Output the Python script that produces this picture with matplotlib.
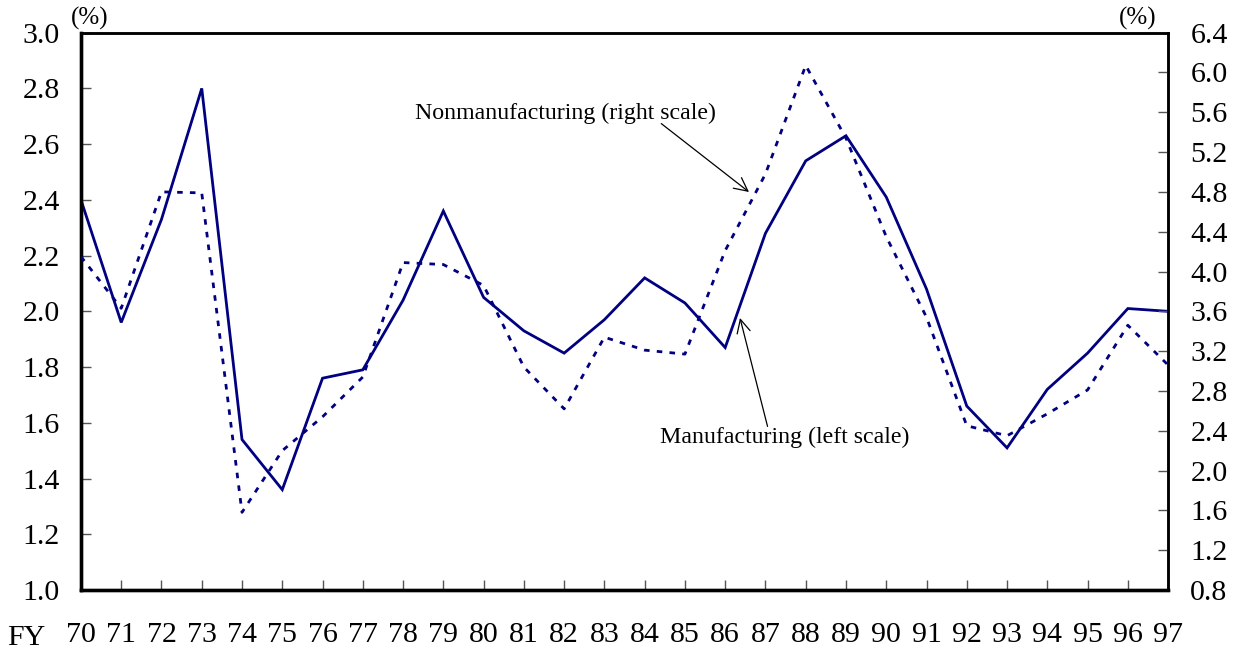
import matplotlib
matplotlib.use("Agg")
import matplotlib.pyplot as plt

years = list(range(70, 98))
year_labels = [str(y) for y in years]
manufacturing = [2.40, 1.96, 2.33, 2.80, 1.54, 1.36, 1.76, 1.79, 2.04, 2.36,
                 2.05, 1.93, 1.85, 1.97, 2.12, 2.03, 1.87, 2.28, 2.54, 2.63,
                 2.41, 2.08, 1.66, 1.51, 1.72, 1.85, 2.01, 2.00]
nonmanufacturing = [4.15, 3.63, 4.80, 4.79, 1.58, 2.20, 2.54, 2.94, 4.09, 4.07,
                    3.86, 3.04, 2.62, 3.34, 3.21, 3.17, 4.21, 4.98, 6.07, 5.34,
                    4.35, 3.54, 2.45, 2.35, 2.57, 2.81, 3.46, 3.06]
left_ticks = [1.0, 1.2, 1.4, 1.6, 1.8, 2.0, 2.2, 2.4, 2.6, 2.8, 3.0]
right_ticks = [0.8, 1.2, 1.6, 2.0, 2.4, 2.8, 3.2, 3.6, 4.0, 4.4, 4.8, 5.2, 5.6, 6.0, 6.4]

plt.rcParams['font.family'] = ['Liberation Serif', 'DejaVu Serif']
NAVY = '#000080'

fig = plt.figure(figsize=(12.34, 6.53), dpi=100)
ax = fig.add_axes([0.0656, 0.0965, 0.881, 0.8535])
ax2 = ax.twinx()

ax.plot(years, manufacturing, color=NAVY, lw=2.0, solid_joinstyle='miter', zorder=3)
ax2.plot(years, nonmanufacturing, color=NAVY, lw=2.0, linestyle=(0, (2, 2.6)), zorder=3)

ax.set_xlim(70, 97)
ax.set_ylim(1.0, 3.0)
ax2.set_ylim(0.8, 6.4)
ax.set_xticks(years)
ax.set_xticklabels(year_labels)
ax.set_yticks(left_ticks)
ax.set_yticklabels([f"{v:.1f}" for v in left_ticks])
ax2.set_yticks(right_ticks)
ax2.set_yticklabels([f"{v:.1f}" for v in right_ticks])

ax.tick_params(axis='x', direction='in', length=7, width=1, color='#555555',
               labelsize=21.5, pad=23)
ax.tick_params(axis='y', direction='in', length=7, width=1, color='#555555',
               labelsize=21.5, pad=15)
ax2.tick_params(axis='y', direction='in', length=7, width=1, color='#555555',
                labelsize=21.5, pad=16)

for a in (ax, ax2):
    for side in ('left', 'bottom'):
        a.spines[side].set_linewidth(2.4)
    for side in ('top', 'right'):
        a.spines[side].set_linewidth(1.8)

fig.text(90 / 1234, 1 - 18 / 653, "(%)", fontsize=18, ha='center', va='center')
fig.text(1138 / 1234, 1 - 18 / 653, "(%)", fontsize=18, ha='center', va='center')
fig.text(26 / 1234, 1 - 638 / 653, "FY", fontsize=21.5, ha='center', va='center')

ax.annotate("Nonmanufacturing (right scale)", xy=(749, 653 - 192), xycoords='figure pixels',
            xytext=(565, 653 - 113), textcoords='figure pixels',
            fontsize=17.2, ha='center', va='center',
            arrowprops=dict(arrowstyle='->', color='black', lw=0.9,
                            shrinkA=0, shrinkB=0, mutation_scale=24,
                            patchA=None, relpos=(0.82, 0.0)))
ax.annotate("Manufacturing (left scale)", xy=(740, 653 - 318), xycoords='figure pixels',
            xytext=(785, 653 - 437), textcoords='figure pixels',
            fontsize=17.2, ha='center', va='center',
            arrowprops=dict(arrowstyle='->', color='black', lw=0.9,
                            shrinkA=0, shrinkB=0, mutation_scale=24,
                            patchA=None, relpos=(0.43, 1.0)))

fig.savefig("out.png", dpi=100)
